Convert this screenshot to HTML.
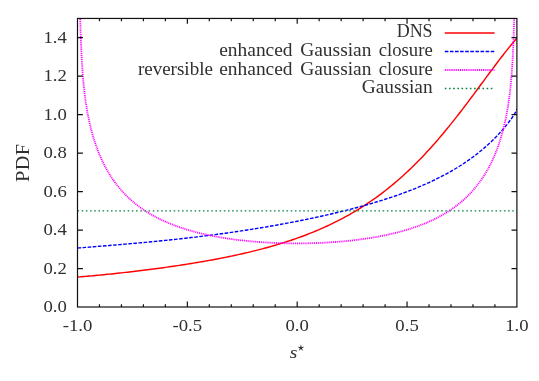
<!DOCTYPE html>
<html><head><meta charset="utf-8"><title>PDF of s*</title>
<style>
html,body{margin:0;padding:0;background:#fff;}
svg{display:block}
text{font-family:"Liberation Serif",serif;font-size:18px;fill:#303030;}
.l{letter-spacing:0.3px;}
.t{font-size:17.6px;}
</style></head><body>
<svg width="539" height="381" viewBox="0 0 539 381">
<defs><clipPath id="c"><rect x="77.5" y="18.45" width="439.40" height="288.55"/></clipPath></defs>

<g clip-path="url(#c)" fill="none">
<path d="M77.50,277.05 L79.50,276.89 L81.49,276.73 L83.49,276.56 L85.49,276.39 L87.49,276.21 L89.48,276.03 L91.48,275.86 L93.48,275.67 L95.48,275.49 L97.47,275.30 L99.47,275.11 L101.47,274.92 L103.46,274.72 L105.46,274.52 L107.46,274.32 L109.46,274.12 L111.45,273.91 L113.45,273.71 L115.45,273.49 L117.45,273.28 L119.44,273.07 L121.44,272.85 L123.44,272.63 L125.43,272.40 L127.43,272.18 L129.43,271.95 L131.43,271.72 L133.42,271.48 L135.42,271.25 L137.42,271.01 L139.42,270.77 L141.41,270.52 L143.41,270.28 L145.41,270.03 L147.40,269.77 L149.40,269.52 L151.40,269.26 L153.40,269.00 L155.39,268.74 L157.39,268.47 L159.39,268.20 L161.39,267.93 L163.38,267.66 L165.38,267.38 L167.38,267.10 L169.37,266.82 L171.37,266.53 L173.37,266.24 L175.37,265.95 L177.36,265.65 L179.36,265.35 L181.36,265.05 L183.36,264.74 L185.35,264.43 L187.35,264.12 L189.35,263.80 L191.34,263.48 L193.34,263.15 L195.34,262.82 L197.34,262.49 L199.33,262.15 L201.33,261.81 L203.33,261.47 L205.33,261.12 L207.32,260.76 L209.32,260.41 L211.32,260.04 L213.31,259.67 L215.31,259.30 L217.31,258.92 L219.31,258.54 L221.30,258.15 L223.30,257.76 L225.30,257.36 L227.30,256.96 L229.29,256.55 L231.29,256.13 L233.29,255.71 L235.28,255.29 L237.28,254.85 L239.28,254.41 L241.28,253.97 L243.27,253.51 L245.27,253.05 L247.27,252.59 L249.27,252.11 L251.26,251.63 L253.26,251.15 L255.26,250.65 L257.25,250.15 L259.25,249.64 L261.25,249.12 L263.25,248.59 L265.24,248.05 L267.24,247.51 L269.24,246.95 L271.24,246.39 L273.23,245.82 L275.23,245.24 L277.23,244.65 L279.22,244.05 L281.22,243.43 L283.22,242.81 L285.22,242.18 L287.21,241.54 L289.21,240.88 L291.21,240.22 L293.21,239.54 L295.20,238.85 L297.20,238.15 L299.20,237.44 L301.19,236.71 L303.19,235.97 L305.19,235.22 L307.19,234.46 L309.18,233.68 L311.18,232.89 L313.18,232.08 L315.18,231.26 L317.17,230.42 L319.17,229.57 L321.17,228.70 L323.16,227.82 L325.16,226.92 L327.16,226.00 L329.16,225.07 L331.15,224.12 L333.15,223.16 L335.15,222.17 L337.15,221.17 L339.14,220.15 L341.14,219.11 L343.14,218.05 L345.13,216.97 L347.13,215.87 L349.13,214.76 L351.13,213.62 L353.12,212.46 L355.12,211.28 L357.12,210.07 L359.12,208.85 L361.11,207.60 L363.11,206.33 L365.11,205.04 L367.10,203.73 L369.10,202.39 L371.10,201.02 L373.10,199.64 L375.09,198.22 L377.09,196.79 L379.09,195.32 L381.09,193.83 L383.08,192.32 L385.08,190.78 L387.08,189.21 L389.07,187.61 L391.07,185.99 L393.07,184.34 L395.07,182.66 L397.06,180.96 L399.06,179.22 L401.06,177.46 L403.06,175.67 L405.05,173.84 L407.05,171.99 L409.05,170.11 L411.04,168.20 L413.04,166.27 L415.04,164.30 L417.04,162.30 L419.03,160.27 L421.03,158.21 L423.03,156.13 L425.03,154.01 L427.02,151.86 L429.02,149.69 L431.02,147.48 L433.01,145.25 L435.01,142.99 L437.01,140.70 L439.01,138.38 L441.00,136.03 L443.00,133.66 L445.00,131.26 L447.00,128.83 L448.99,126.38 L450.99,123.90 L452.99,121.40 L454.98,118.88 L456.98,116.34 L458.98,113.77 L460.98,111.19 L462.97,108.58 L464.97,105.96 L466.97,103.32 L468.97,100.67 L470.96,98.01 L472.96,95.33 L474.96,92.64 L476.95,89.95 L478.95,87.25 L480.95,84.55 L482.95,81.84 L484.94,79.13 L486.94,76.43 L488.94,73.73 L490.94,71.04 L492.93,68.36 L494.93,65.70 L496.93,63.05 L498.92,60.42 L500.92,57.81 L502.92,55.22 L504.92,52.67 L506.91,50.15 L508.91,47.66 L510.91,45.21 L512.91,42.81 L514.90,40.45 L516.90,38.15" stroke="#ff0000" stroke-width="1.45"/>
<path d="M77.50,248.07 L79.50,247.90 L81.49,247.74 L83.49,247.58 L85.49,247.41 L87.49,247.25 L89.48,247.09 L91.48,246.92 L93.48,246.76 L95.48,246.60 L97.47,246.44 L99.47,246.27 L101.47,246.11 L103.46,245.95 L105.46,245.78 L107.46,245.62 L109.46,245.45 L111.45,245.29 L113.45,245.12 L115.45,244.96 L117.45,244.79 L119.44,244.62 L121.44,244.45 L123.44,244.28 L125.43,244.11 L127.43,243.94 L129.43,243.76 L131.43,243.59 L133.42,243.41 L135.42,243.24 L137.42,243.06 L139.42,242.88 L141.41,242.69 L143.41,242.51 L145.41,242.33 L147.40,242.14 L149.40,241.95 L151.40,241.76 L153.40,241.57 L155.39,241.38 L157.39,241.18 L159.39,240.99 L161.39,240.79 L163.38,240.59 L165.38,240.38 L167.38,240.18 L169.37,239.97 L171.37,239.76 L173.37,239.55 L175.37,239.34 L177.36,239.12 L179.36,238.90 L181.36,238.68 L183.36,238.46 L185.35,238.24 L187.35,238.01 L189.35,237.78 L191.34,237.55 L193.34,237.31 L195.34,237.08 L197.34,236.84 L199.33,236.60 L201.33,236.35 L203.33,236.11 L205.33,235.86 L207.32,235.60 L209.32,235.35 L211.32,235.09 L213.31,234.83 L215.31,234.57 L217.31,234.30 L219.31,234.04 L221.30,233.76 L223.30,233.49 L225.30,233.21 L227.30,232.94 L229.29,232.65 L231.29,232.37 L233.29,232.08 L235.28,231.79 L237.28,231.50 L239.28,231.20 L241.28,230.90 L243.27,230.60 L245.27,230.29 L247.27,229.98 L249.27,229.67 L251.26,229.36 L253.26,229.04 L255.26,228.72 L257.25,228.40 L259.25,228.07 L261.25,227.74 L263.25,227.41 L265.24,227.07 L267.24,226.73 L269.24,226.39 L271.24,226.04 L273.23,225.69 L275.23,225.34 L277.23,224.98 L279.22,224.62 L281.22,224.26 L283.22,223.89 L285.22,223.52 L287.21,223.15 L289.21,222.77 L291.21,222.39 L293.21,222.01 L295.20,221.62 L297.20,221.23 L299.20,220.83 L301.19,220.44 L303.19,220.03 L305.19,219.63 L307.19,219.22 L309.18,218.80 L311.18,218.38 L313.18,217.96 L315.18,217.53 L317.17,217.10 L319.17,216.67 L321.17,216.23 L323.16,215.78 L325.16,215.33 L327.16,214.88 L329.16,214.42 L331.15,213.96 L333.15,213.49 L335.15,213.02 L337.15,212.54 L339.14,212.06 L341.14,211.57 L343.14,211.08 L345.13,210.58 L347.13,210.08 L349.13,209.57 L351.13,209.06 L353.12,208.54 L355.12,208.01 L357.12,207.48 L359.12,206.94 L361.11,206.39 L363.11,205.84 L365.11,205.28 L367.10,204.72 L369.10,204.15 L371.10,203.57 L373.10,202.98 L375.09,202.39 L377.09,201.78 L379.09,201.17 L381.09,200.56 L383.08,199.93 L385.08,199.29 L387.08,198.65 L389.07,198.00 L391.07,197.33 L393.07,196.66 L395.07,195.98 L397.06,195.29 L399.06,194.58 L401.06,193.87 L403.06,193.15 L405.05,192.41 L407.05,191.66 L409.05,190.90 L411.04,190.13 L413.04,189.34 L415.04,188.54 L417.04,187.73 L419.03,186.90 L421.03,186.06 L423.03,185.21 L425.03,184.33 L427.02,183.44 L429.02,182.54 L431.02,181.62 L433.01,180.68 L435.01,179.72 L437.01,178.74 L439.01,177.74 L441.00,176.73 L443.00,175.69 L445.00,174.63 L447.00,173.55 L448.99,172.44 L450.99,171.31 L452.99,170.16 L454.98,168.98 L456.98,167.77 L458.98,166.53 L460.98,165.27 L462.97,163.98 L464.97,162.65 L466.97,161.29 L468.97,159.90 L470.96,158.48 L472.96,157.01 L474.96,155.51 L476.95,153.97 L478.95,152.39 L480.95,150.77 L482.95,149.10 L484.94,147.39 L486.94,145.62 L488.94,143.81 L490.94,141.94 L492.93,140.02 L494.93,138.03 L496.93,135.98 L498.92,133.86 L500.92,131.67 L502.92,129.41 L504.92,127.05 L506.91,124.61 L508.91,122.05 L510.91,119.37 L512.91,116.51 L514.90,113.41 L516.90,109.13" stroke="#0000ff" stroke-width="1.4" stroke-dasharray="3.6 1.5"/>
<path d="M80.21,17.03 L80.30,20.70 L80.39,24.19 L80.48,27.52 L80.58,30.71 L80.68,33.76 L80.77,36.68 L80.87,39.48 L80.97,42.18 L81.08,44.77 L81.18,47.26 L81.29,49.67 L81.39,51.99 L81.50,54.23 L81.61,56.39 L81.72,58.49 L81.84,60.52 L81.95,62.48 L82.07,64.39 L82.18,66.25 L82.30,68.05 L82.42,69.80 L82.55,71.50 L82.67,73.17 L82.79,74.78 L82.92,76.36 L83.05,77.90 L83.18,79.41 L83.31,80.88 L83.44,82.32 L83.57,83.73 L83.71,85.11 L83.84,86.46 L83.98,87.78 L84.12,89.08 L84.26,90.36 L84.40,91.61 L84.55,92.84 L84.69,94.05 L84.84,95.23 L84.99,96.40 L85.14,97.55 L85.29,98.68 L85.44,99.79 L85.60,100.89 L85.75,101.97 L85.91,103.04 L86.07,104.09 L86.23,105.12 L86.39,106.15 L86.55,107.16 L86.71,108.15 L86.88,109.14 L87.05,110.11 L87.21,111.07 L87.38,112.02 L87.56,112.96 L87.73,113.89 L87.90,114.80 L88.08,115.71 L88.25,116.61 L88.43,117.50 L88.61,118.38 L88.79,119.25 L88.98,120.11 L89.16,120.97 L89.35,121.82 L89.53,122.65 L89.72,123.49 L89.91,124.31 L90.10,125.12 L90.30,125.93 L90.49,126.74 L90.69,127.53 L90.88,128.32 L91.08,129.10 L91.28,129.88 L91.48,130.65 L91.69,131.41 L91.89,132.17 L92.09,132.92 L92.30,133.66 L92.51,134.40 L92.72,135.14 L92.93,135.87 L93.14,136.59 L93.36,137.31 L93.57,138.02 L93.79,138.73 L94.01,139.43 L94.23,140.13 L94.45,140.82 L94.67,141.51 L94.89,142.20 L95.12,142.87 L95.34,143.55 L95.57,144.22 L95.80,144.88 L96.03,145.54 L96.26,146.20 L96.50,146.85 L96.73,147.50 L96.97,148.15 L97.20,148.79 L97.44,149.42 L97.68,150.05 L97.92,150.68 L98.17,151.30 L98.41,151.92 L98.66,152.54 L98.90,153.15 L99.15,153.76 L99.40,154.36 L99.65,154.97 L99.91,155.56 L100.16,156.16 L100.41,156.75 L100.67,157.33 L100.93,157.92 L101.19,158.49 L101.45,159.07 L101.71,159.64 L101.97,160.21 L102.24,160.78 L102.50,161.34 L102.77,161.90 L103.04,162.45 L103.31,163.01 L103.58,163.55 L103.85,164.10 L104.13,164.64 L104.40,165.18 L104.68,165.72 L104.96,166.25 L105.23,166.78 L105.51,167.31 L105.80,167.83 L106.08,168.35 L106.36,168.87 L106.65,169.38 L106.94,169.89 L107.22,170.40 L107.51,170.91 L107.80,171.41 L108.10,171.91 L108.39,172.41 L108.69,172.90 L108.98,173.39 L109.28,173.88 L109.58,174.37 L109.88,174.85 L110.18,175.33 L110.48,175.81 L110.78,176.28 L111.09,176.75 L111.40,177.22 L111.70,177.69 L112.01,178.15 L112.32,178.61 L112.63,179.07 L112.95,179.52 L113.26,179.98 L113.57,180.43 L113.89,180.88 L114.21,181.32 L114.53,181.76 L114.85,182.20 L115.17,182.64 L115.49,183.07 L115.82,183.51 L116.14,183.94 L116.47,184.36 L116.80,184.79 L117.12,185.21 L117.45,185.63 L117.79,186.05 L118.12,186.46 L118.45,186.88 L118.79,187.29 L119.12,187.69 L119.46,188.10 L119.80,188.50 L120.14,188.90 L120.48,189.30 L120.82,189.70 L121.17,190.09 L121.51,190.49 L121.86,190.87 L122.20,191.26 L122.55,191.65 L122.90,192.03 L123.25,192.41 L123.60,192.79 L123.96,193.16 L124.31,193.54 L124.67,193.91 L125.02,194.28 L125.38,194.65 L125.74,195.01 L126.10,195.37 L126.46,195.74 L126.83,196.09 L127.19,196.45 L127.55,196.81 L127.92,197.16 L128.29,197.51 L128.66,197.86 L129.03,198.20 L129.40,198.55 L129.77,198.89 L130.14,199.23 L130.51,199.57 L130.89,199.91 L131.27,200.24 L131.64,200.57 L132.02,200.90 L132.40,201.23 L132.78,201.56 L133.17,201.88 L133.55,202.21 L133.93,202.53 L134.32,202.84 L134.70,203.16 L135.09,203.48 L135.48,203.79 L135.87,204.10 L136.26,204.41 L136.65,204.72 L137.05,205.03 L137.44,205.33 L137.84,205.63 L138.23,205.93 L138.63,206.23 L139.03,206.53 L139.43,206.82 L139.83,207.12 L140.23,207.41 L140.63,207.70 L141.04,207.99 L141.44,208.27 L141.85,208.56 L142.26,208.84 L142.67,209.12 L143.08,209.40 L143.49,209.68 L143.90,209.96 L144.31,210.23 L144.72,210.50 L145.14,210.78 L145.55,211.04 L145.97,211.31 L146.39,211.58 L146.81,211.84 L147.23,212.11 L147.65,212.37 L148.07,212.63 L148.49,212.89 L148.92,213.14 L149.34,213.40 L149.77,213.65 L150.19,213.91 L150.62,214.16 L151.05,214.41 L151.48,214.65 L151.91,214.90 L152.34,215.14 L152.78,215.39 L153.21,215.63 L153.64,215.87 L154.08,216.11 L154.52,216.35 L154.96,216.58 L155.39,216.82 L155.83,217.05 L156.27,217.28 L156.72,217.51 L157.16,217.74 L157.60,217.97 L158.05,218.19 L158.49,218.42 L158.94,218.64 L159.39,218.86 L159.84,219.08 L160.28,219.30 L160.74,219.52 L161.19,219.73 L161.64,219.95 L162.09,220.16 L162.55,220.37 L163.00,220.58 L163.46,220.79 L163.91,221.00 L164.37,221.21 L164.83,221.41 L165.29,221.62 L165.75,221.82 L166.21,222.02 L166.67,222.22 L167.14,222.42 L167.60,222.62 L168.06,222.82 L168.53,223.01 L169.00,223.21 L169.46,223.40 L169.93,223.59 L170.40,223.78 L170.87,223.97 L171.34,224.16 L171.82,224.34 L172.29,224.53 L172.76,224.71 L173.24,224.90 L173.71,225.08 L174.19,225.26 L174.66,225.44 L175.14,225.62 L175.62,225.80 L176.10,225.97 L176.58,226.15 L177.06,226.32 L177.54,226.49 L178.03,226.66 L178.51,226.83 L178.99,227.00 L179.48,227.17 L179.97,227.34 L180.45,227.50 L180.94,227.67 L181.43,227.83 L181.92,228.00 L182.41,228.16 L182.90,228.32 L183.39,228.48 L183.88,228.63 L184.38,228.79 L184.87,228.95 L185.36,229.10 L185.86,229.26 L186.36,229.41 L186.85,229.56 L187.35,229.71 L187.85,229.86 L188.35,230.01 L188.85,230.16 L189.35,230.31 L189.85,230.45 L190.35,230.60 L190.86,230.74 L191.36,230.88 L191.86,231.02 L192.37,231.16 L192.88,231.30 L193.38,231.44 L193.89,231.58 L194.40,231.72 L194.91,231.85 L195.41,231.99 L195.92,232.12 L196.44,232.25 L196.95,232.39 L197.46,232.52 L197.97,232.65 L198.49,232.78 L199.00,232.90 L199.51,233.03 L200.03,233.16 L200.55,233.28 L201.06,233.41 L201.58,233.53 L202.10,233.65 L202.62,233.77 L203.14,233.89 L203.66,234.01 L204.18,234.13 L204.70,234.25 L205.22,234.37 L205.74,234.48 L206.27,234.60 L206.79,234.71 L207.32,234.83 L207.84,234.94 L208.37,235.05 L208.89,235.16 L209.42,235.27 L209.95,235.38 L210.48,235.49 L211.00,235.60 L211.53,235.70 L212.06,235.81 L212.59,235.92 L213.13,236.02 L213.66,236.12 L214.19,236.23 L214.72,236.33 L215.26,236.43 L215.79,236.53 L216.32,236.63 L216.86,236.72 L217.39,236.82 L217.93,236.92 L218.47,237.01 L219.00,237.11 L219.54,237.20 L220.08,237.30 L220.62,237.39 L221.16,237.48 L221.70,237.57 L222.24,237.66 L222.78,237.75 L223.32,237.84 L223.86,237.93 L224.41,238.02 L224.95,238.10 L225.49,238.19 L226.04,238.27 L226.58,238.36 L227.13,238.44 L227.67,238.52 L228.22,238.60 L228.76,238.68 L229.31,238.76 L229.86,238.84 L230.40,238.92 L230.95,239.00 L231.50,239.08 L232.05,239.15 L232.60,239.23 L233.15,239.30 L233.70,239.38 L234.25,239.45 L234.80,239.52 L235.35,239.60 L235.91,239.67 L236.46,239.74 L237.01,239.81 L237.57,239.88 L238.12,239.94 L238.67,240.01 L239.23,240.08 L239.78,240.14 L240.34,240.21 L240.89,240.27 L241.45,240.34 L242.01,240.40 L242.56,240.46 L243.12,240.53 L243.68,240.59 L244.24,240.65 L244.79,240.71 L245.35,240.77 L245.91,240.82 L246.47,240.88 L247.03,240.94 L247.59,241.00 L248.15,241.05 L248.71,241.11 L249.27,241.16 L249.84,241.21 L250.40,241.27 L250.96,241.32 L251.52,241.37 L252.09,241.42 L252.65,241.47 L253.21,241.52 L253.78,241.57 L254.34,241.62 L254.90,241.66 L255.47,241.71 L256.03,241.76 L256.60,241.80 L257.16,241.85 L257.73,241.89 L258.29,241.93 L258.86,241.98 L259.43,242.02 L259.99,242.06 L260.56,242.10 L261.13,242.14 L261.70,242.18 L262.26,242.22 L262.83,242.26 L263.40,242.30 L263.97,242.33 L264.54,242.37 L265.11,242.40 L265.67,242.44 L266.24,242.47 L266.81,242.51 L267.38,242.54 L267.95,242.57 L268.52,242.60 L269.09,242.63 L269.66,242.67 L270.24,242.69 L270.81,242.72 L271.38,242.75 L271.95,242.78 L272.52,242.81 L273.09,242.83 L273.66,242.86 L274.24,242.89 L274.81,242.91 L275.38,242.93 L275.95,242.96 L276.52,242.98 L277.10,243.00 L277.67,243.02 L278.24,243.04 L278.82,243.06 L279.39,243.08 L279.96,243.10 L280.54,243.12 L281.11,243.14 L281.68,243.16 L282.26,243.17 L282.83,243.19 L283.41,243.20 L283.98,243.22 L284.55,243.23 L285.13,243.25 L285.70,243.26 L286.28,243.27 L286.85,243.28 L287.43,243.29 L288.00,243.30 L288.57,243.31 L289.15,243.32 L289.72,243.33 L290.30,243.34 L290.87,243.35 L291.45,243.35 L292.02,243.36 L292.60,243.36 L293.17,243.37 L293.75,243.37 L294.32,243.37 L294.90,243.38 L295.47,243.38 L296.05,243.38 L296.62,243.38 L297.20,243.38 L297.78,243.38 L298.35,243.38 L298.93,243.38 L299.50,243.38 L300.08,243.37 L300.65,243.37 L301.23,243.37 L301.80,243.36 L302.38,243.36 L302.95,243.35 L303.53,243.35 L304.10,243.34 L304.68,243.33 L305.25,243.32 L305.83,243.31 L306.40,243.30 L306.97,243.29 L307.55,243.28 L308.12,243.27 L308.70,243.26 L309.27,243.25 L309.85,243.23 L310.42,243.22 L310.99,243.20 L311.57,243.19 L312.14,243.17 L312.72,243.16 L313.29,243.14 L313.86,243.12 L314.44,243.10 L315.01,243.08 L315.58,243.06 L316.16,243.04 L316.73,243.02 L317.30,243.00 L317.88,242.98 L318.45,242.96 L319.02,242.93 L319.59,242.91 L320.16,242.89 L320.74,242.86 L321.31,242.83 L321.88,242.81 L322.45,242.78 L323.02,242.75 L323.59,242.72 L324.16,242.69 L324.74,242.67 L325.31,242.63 L325.88,242.60 L326.45,242.57 L327.02,242.54 L327.59,242.51 L328.16,242.47 L328.73,242.44 L329.29,242.40 L329.86,242.37 L330.43,242.33 L331.00,242.30 L331.57,242.26 L332.14,242.22 L332.70,242.18 L333.27,242.14 L333.84,242.10 L334.41,242.06 L334.97,242.02 L335.54,241.98 L336.11,241.93 L336.67,241.89 L337.24,241.85 L337.80,241.80 L338.37,241.76 L338.93,241.71 L339.50,241.66 L340.06,241.62 L340.62,241.57 L341.19,241.52 L341.75,241.47 L342.31,241.42 L342.88,241.37 L343.44,241.32 L344.00,241.27 L344.56,241.21 L345.13,241.16 L345.69,241.11 L346.25,241.05 L346.81,241.00 L347.37,240.94 L347.93,240.88 L348.49,240.82 L349.05,240.77 L349.61,240.71 L350.16,240.65 L350.72,240.59 L351.28,240.53 L351.84,240.46 L352.39,240.40 L352.95,240.34 L353.51,240.27 L354.06,240.21 L354.62,240.14 L355.17,240.08 L355.73,240.01 L356.28,239.94 L356.83,239.88 L357.39,239.81 L357.94,239.74 L358.49,239.67 L359.05,239.60 L359.60,239.52 L360.15,239.45 L360.70,239.38 L361.25,239.30 L361.80,239.23 L362.35,239.15 L362.90,239.08 L363.45,239.00 L364.00,238.92 L364.54,238.84 L365.09,238.76 L365.64,238.68 L366.18,238.60 L366.73,238.52 L367.27,238.44 L367.82,238.36 L368.36,238.27 L368.91,238.19 L369.45,238.10 L369.99,238.02 L370.54,237.93 L371.08,237.84 L371.62,237.75 L372.16,237.66 L372.70,237.57 L373.24,237.48 L373.78,237.39 L374.32,237.30 L374.86,237.20 L375.40,237.11 L375.93,237.01 L376.47,236.92 L377.01,236.82 L377.54,236.72 L378.08,236.63 L378.61,236.53 L379.14,236.43 L379.68,236.33 L380.21,236.23 L380.74,236.12 L381.27,236.02 L381.81,235.92 L382.34,235.81 L382.87,235.70 L383.40,235.60 L383.92,235.49 L384.45,235.38 L384.98,235.27 L385.51,235.16 L386.03,235.05 L386.56,234.94 L387.08,234.83 L387.61,234.71 L388.13,234.60 L388.66,234.48 L389.18,234.37 L389.70,234.25 L390.22,234.13 L390.74,234.01 L391.26,233.89 L391.78,233.77 L392.30,233.65 L392.82,233.53 L393.34,233.41 L393.85,233.28 L394.37,233.16 L394.89,233.03 L395.40,232.90 L395.91,232.78 L396.43,232.65 L396.94,232.52 L397.45,232.39 L397.96,232.25 L398.48,232.12 L398.99,231.99 L399.49,231.85 L400.00,231.72 L400.51,231.58 L401.02,231.44 L401.52,231.30 L402.03,231.16 L402.54,231.02 L403.04,230.88 L403.54,230.74 L404.05,230.60 L404.55,230.45 L405.05,230.31 L405.55,230.16 L406.05,230.01 L406.55,229.86 L407.05,229.71 L407.55,229.56 L408.04,229.41 L408.54,229.26 L409.04,229.10 L409.53,228.95 L410.02,228.79 L410.52,228.63 L411.01,228.48 L411.50,228.32 L411.99,228.16 L412.48,228.00 L412.97,227.83 L413.46,227.67 L413.95,227.50 L414.43,227.34 L414.92,227.17 L415.41,227.00 L415.89,226.83 L416.37,226.66 L416.86,226.49 L417.34,226.32 L417.82,226.15 L418.30,225.97 L418.78,225.80 L419.26,225.62 L419.74,225.44 L420.21,225.26 L420.69,225.08 L421.16,224.90 L421.64,224.71 L422.11,224.53 L422.58,224.34 L423.06,224.16 L423.53,223.97 L424.00,223.78 L424.47,223.59 L424.94,223.40 L425.40,223.21 L425.87,223.01 L426.34,222.82 L426.80,222.62 L427.26,222.42 L427.73,222.22 L428.19,222.02 L428.65,221.82 L429.11,221.62 L429.57,221.41 L430.03,221.21 L430.49,221.00 L430.94,220.79 L431.40,220.58 L431.85,220.37 L432.31,220.16 L432.76,219.95 L433.21,219.73 L433.66,219.52 L434.12,219.30 L434.56,219.08 L435.01,218.86 L435.46,218.64 L435.91,218.42 L436.35,218.19 L436.80,217.97 L437.24,217.74 L437.68,217.51 L438.13,217.28 L438.57,217.05 L439.01,216.82 L439.44,216.58 L439.88,216.35 L440.32,216.11 L440.76,215.87 L441.19,215.63 L441.62,215.39 L442.06,215.14 L442.49,214.90 L442.92,214.65 L443.35,214.41 L443.78,214.16 L444.21,213.91 L444.63,213.65 L445.06,213.40 L445.48,213.14 L445.91,212.89 L446.33,212.63 L446.75,212.37 L447.17,212.11 L447.59,211.84 L448.01,211.58 L448.43,211.31 L448.85,211.04 L449.26,210.78 L449.68,210.50 L450.09,210.23 L450.50,209.96 L450.91,209.68 L451.32,209.40 L451.73,209.12 L452.14,208.84 L452.55,208.56 L452.96,208.27 L453.36,207.99 L453.77,207.70 L454.17,207.41 L454.57,207.12 L454.97,206.82 L455.37,206.53 L455.77,206.23 L456.17,205.93 L456.56,205.63 L456.96,205.33 L457.35,205.03 L457.75,204.72 L458.14,204.41 L458.53,204.10 L458.92,203.79 L459.31,203.48 L459.70,203.16 L460.08,202.84 L460.47,202.53 L460.85,202.21 L461.23,201.88 L461.62,201.56 L462.00,201.23 L462.38,200.90 L462.76,200.57 L463.13,200.24 L463.51,199.91 L463.89,199.57 L464.26,199.23 L464.63,198.89 L465.00,198.55 L465.37,198.20 L465.74,197.86 L466.11,197.51 L466.48,197.16 L466.85,196.81 L467.21,196.45 L467.57,196.09 L467.94,195.74 L468.30,195.37 L468.66,195.01 L469.02,194.65 L469.38,194.28 L469.73,193.91 L470.09,193.54 L470.44,193.16 L470.80,192.79 L471.15,192.41 L471.50,192.03 L471.85,191.65 L472.20,191.26 L472.54,190.87 L472.89,190.49 L473.23,190.09 L473.58,189.70 L473.92,189.30 L474.26,188.90 L474.60,188.50 L474.94,188.10 L475.28,187.69 L475.61,187.29 L475.95,186.88 L476.28,186.46 L476.61,186.05 L476.95,185.63 L477.28,185.21 L477.60,184.79 L477.93,184.36 L478.26,183.94 L478.58,183.51 L478.91,183.07 L479.23,182.64 L479.55,182.20 L479.87,181.76 L480.19,181.32 L480.51,180.88 L480.83,180.43 L481.14,179.98 L481.45,179.52 L481.77,179.07 L482.08,178.61 L482.39,178.15 L482.70,177.69 L483.00,177.22 L483.31,176.75 L483.62,176.28 L483.92,175.81 L484.22,175.33 L484.52,174.85 L484.82,174.37 L485.12,173.88 L485.42,173.39 L485.71,172.90 L486.01,172.41 L486.30,171.91 L486.60,171.41 L486.89,170.91 L487.18,170.40 L487.46,169.89 L487.75,169.38 L488.04,168.87 L488.32,168.35 L488.60,167.83 L488.89,167.31 L489.17,166.78 L489.44,166.25 L489.72,165.72 L490.00,165.18 L490.27,164.64 L490.55,164.10 L490.82,163.55 L491.09,163.01 L491.36,162.45 L491.63,161.90 L491.90,161.34 L492.16,160.78 L492.43,160.21 L492.69,159.64 L492.95,159.07 L493.21,158.49 L493.47,157.92 L493.73,157.33 L493.99,156.75 L494.24,156.16 L494.49,155.56 L494.75,154.97 L495.00,154.36 L495.25,153.76 L495.50,153.15 L495.74,152.54 L495.99,151.92 L496.23,151.30 L496.48,150.68 L496.72,150.05 L496.96,149.42 L497.20,148.79 L497.43,148.15 L497.67,147.50 L497.90,146.85 L498.14,146.20 L498.37,145.54 L498.60,144.88 L498.83,144.22 L499.06,143.55 L499.28,142.87 L499.51,142.20 L499.73,141.51 L499.95,140.82 L500.17,140.13 L500.39,139.43 L500.61,138.73 L500.83,138.02 L501.04,137.31 L501.26,136.59 L501.47,135.87 L501.68,135.14 L501.89,134.40 L502.10,133.66 L502.31,132.92 L502.51,132.17 L502.71,131.41 L502.92,130.65 L503.12,129.88 L503.32,129.10 L503.52,128.32 L503.71,127.53 L503.91,126.74 L504.10,125.93 L504.30,125.12 L504.49,124.31 L504.68,123.49 L504.87,122.65 L505.05,121.82 L505.24,120.97 L505.42,120.11 L505.61,119.25 L505.79,118.38 L505.97,117.50 L506.15,116.61 L506.32,115.71 L506.50,114.80 L506.67,113.89 L506.84,112.96 L507.02,112.02 L507.19,111.07 L507.35,110.11 L507.52,109.14 L507.69,108.15 L507.85,107.16 L508.01,106.15 L508.17,105.12 L508.33,104.09 L508.49,103.04 L508.65,101.97 L508.80,100.89 L508.96,99.79 L509.11,98.68 L509.26,97.55 L509.41,96.40 L509.56,95.23 L509.71,94.05 L509.85,92.84 L510.00,91.61 L510.14,90.36 L510.28,89.08 L510.42,87.78 L510.56,86.46 L510.69,85.11 L510.83,83.73 L510.96,82.32 L511.09,80.88 L511.22,79.41 L511.35,77.90 L511.48,76.36 L511.61,74.78 L511.73,73.17 L511.85,71.50 L511.98,69.80 L512.10,68.05 L512.22,66.25 L512.33,64.39 L512.45,62.48 L512.56,60.52 L512.68,58.49 L512.79,56.39 L512.90,54.23 L513.01,51.99 L513.11,49.67 L513.22,47.26 L513.32,44.77 L513.43,42.18 L513.53,39.48 L513.63,36.68 L513.72,33.76 L513.82,30.71 L513.92,27.52 L514.01,24.19 L514.10,20.70 L514.19,17.03" stroke="#ff00ff" stroke-width="1.8" stroke-dasharray="1.05 0.85"/>
<path d="M77.5,210.82 L516.9,210.82" stroke="#0a8446" stroke-width="1.35" stroke-dasharray="1.6 2.58"/>
</g>
<g fill="none">
<path d="M444.8,33.0 L494.6,33.0" stroke="#ff0000" stroke-width="1.45"/>
<path d="M444.8,51.5 L494.6,51.5" stroke="#0000ff" stroke-width="1.4" stroke-dasharray="3.6 1.5"/>
<path d="M444.8,70.0 L494.6,70.0" stroke="#ff00ff" stroke-width="1.8" stroke-dasharray="1.05 0.85"/>
<path d="M444.8,88.5 L494.6,88.5" stroke="#0a8446" stroke-width="1.35" stroke-dasharray="1.6 2.58"/>
</g>
<g stroke="#111" stroke-width="1.2" fill="none">
<rect x="77.5" y="18.45" width="439.40" height="288.55"/>
<path d="M99.47,307.0 v-2.7 M99.47,18.45 v2.7 M121.44,307.0 v-2.7 M121.44,18.45 v2.7 M143.41,307.0 v-2.7 M143.41,18.45 v2.7 M165.38,307.0 v-2.7 M165.38,18.45 v2.7 M187.35,307.0 v-5.4 M187.35,18.45 v5.4 M209.32,307.0 v-2.7 M209.32,18.45 v2.7 M231.29,307.0 v-2.7 M231.29,18.45 v2.7 M253.26,307.0 v-2.7 M253.26,18.45 v2.7 M275.23,307.0 v-2.7 M275.23,18.45 v2.7 M297.20,307.0 v-5.4 M297.20,18.45 v5.4 M319.17,307.0 v-2.7 M319.17,18.45 v2.7 M341.14,307.0 v-2.7 M341.14,18.45 v2.7 M363.11,307.0 v-2.7 M363.11,18.45 v2.7 M385.08,307.0 v-2.7 M385.08,18.45 v2.7 M407.05,307.0 v-5.4 M407.05,18.45 v5.4 M429.02,307.0 v-2.7 M429.02,18.45 v2.7 M450.99,307.0 v-2.7 M450.99,18.45 v2.7 M472.96,307.0 v-2.7 M472.96,18.45 v2.7 M494.93,307.0 v-2.7 M494.93,18.45 v2.7 M77.5,268.53 h5.4 M516.9,268.53 h-5.4 M77.5,230.05 h5.4 M516.9,230.05 h-5.4 M77.5,191.58 h5.4 M516.9,191.58 h-5.4 M77.5,153.11 h5.4 M516.9,153.11 h-5.4 M77.5,114.63 h5.4 M516.9,114.63 h-5.4 M77.5,76.16 h5.4 M516.9,76.16 h-5.4 M77.5,37.69 h5.4 M516.9,37.69 h-5.4"/>
</g>
<g opacity="0.999">
<text class="t" x="66.9" y="312.30" text-anchor="end" textLength="23.4" lengthAdjust="spacingAndGlyphs">0.0</text>
<text class="t" x="66.9" y="273.83" text-anchor="end" textLength="23.4" lengthAdjust="spacingAndGlyphs">0.2</text>
<text class="t" x="66.9" y="235.35" text-anchor="end" textLength="23.4" lengthAdjust="spacingAndGlyphs">0.4</text>
<text class="t" x="66.9" y="196.88" text-anchor="end" textLength="23.4" lengthAdjust="spacingAndGlyphs">0.6</text>
<text class="t" x="66.9" y="158.41" text-anchor="end" textLength="23.4" lengthAdjust="spacingAndGlyphs">0.8</text>
<text class="t" x="66.9" y="119.93" text-anchor="end" textLength="23.4" lengthAdjust="spacingAndGlyphs">1.0</text>
<text class="t" x="66.9" y="81.46" text-anchor="end" textLength="23.4" lengthAdjust="spacingAndGlyphs">1.2</text>
<text class="t" x="66.9" y="42.99" text-anchor="end" textLength="23.4" lengthAdjust="spacingAndGlyphs">1.4</text>
<text class="t" x="77.50" y="330.5" text-anchor="middle" textLength="29.7" lengthAdjust="spacingAndGlyphs">-1.0</text>
<text class="t" x="187.35" y="330.5" text-anchor="middle" textLength="29.7" lengthAdjust="spacingAndGlyphs">-0.5</text>
<text class="t" x="297.20" y="330.5" text-anchor="middle" textLength="23.4" lengthAdjust="spacingAndGlyphs">0.0</text>
<text class="t" x="407.05" y="330.5" text-anchor="middle" textLength="23.4" lengthAdjust="spacingAndGlyphs">0.5</text>
<text class="t" x="516.90" y="330.5" text-anchor="middle" textLength="23.4" lengthAdjust="spacingAndGlyphs">1.0</text>
<text x="396.7" y="37.4" textLength="35.9" lengthAdjust="spacingAndGlyphs">DNS</text>
<text x="219.2" y="56.2" textLength="73.4" lengthAdjust="spacingAndGlyphs">enhanced</text>
<text x="300.2" y="56.2" textLength="71.3" lengthAdjust="spacingAndGlyphs">Gaussian</text>
<text x="378.7" y="56.2" textLength="54.0" lengthAdjust="spacingAndGlyphs">closure</text>
<text x="137.9" y="74.8" textLength="75.0" lengthAdjust="spacingAndGlyphs">reversible</text>
<text x="219.2" y="74.8" textLength="73.4" lengthAdjust="spacingAndGlyphs">enhanced</text>
<text x="300.2" y="74.8" textLength="71.3" lengthAdjust="spacingAndGlyphs">Gaussian</text>
<text x="378.7" y="74.8" textLength="54.0" lengthAdjust="spacingAndGlyphs">closure</text>
<text x="361.7" y="93.2" textLength="70.9" lengthAdjust="spacingAndGlyphs">Gaussian</text>
<text class="l" transform="translate(28.7,162.8) rotate(-90)" text-anchor="middle" textLength="38.3" lengthAdjust="spacingAndGlyphs">PDF</text>
<text x="289.8" y="357.5" font-style="italic" font-size="16.6" style="font-size:16.6px" textLength="7.6" lengthAdjust="spacingAndGlyphs">s</text>
<polygon points="300.90,344.15 301.58,346.97 304.47,346.74 301.99,348.26 303.10,350.93 300.90,349.05 298.70,350.93 299.81,348.26 297.33,346.74 300.22,346.97" fill="#303030"/>
</g>
</svg></body></html>
